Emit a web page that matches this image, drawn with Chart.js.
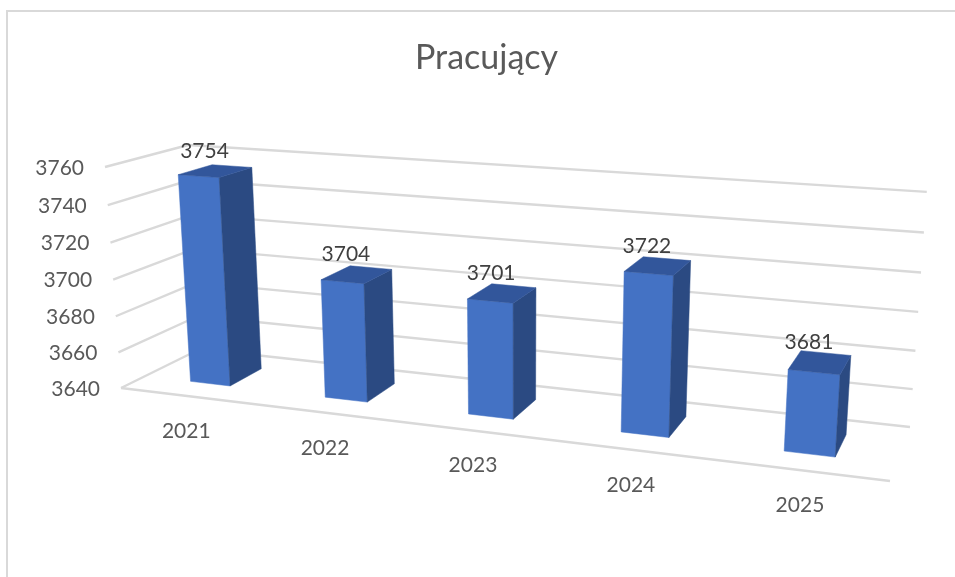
<!DOCTYPE html>
<html>
<head>
<meta charset="utf-8">
<title>Pracujący</title>
<script src="https://cdn.jsdelivr.net/npm/chart.js@4"></script>
<style>
	html, body { margin: 0; padding: 0; background: #fff; overflow: hidden; }
	#frame { position: absolute; left: 6px; top: 10px; width: 960px; height: 580px; border-left: 2px solid #d9d9d9; border-top: 2px solid #d9d9d9; }
	#wrap { position: absolute; left: 0; top: 0; width: 955px; height: 577px; }
</style>
</head>
<body>
<div id="frame"></div>
<div id="wrap"><canvas id="chart" width="955" height="577"></canvas></div>
<script>
var categories = ["2021", "2022", "2023", "2024", "2025"];
var employed = [3754, 3704, 3701, 3722, 3681];
var axisMin = 3640;
var axisMax = 3760;
var axisStep = 20;
var chartTitle = "Pracujący";

var fontName = "Lato, 'Open Sans', sans-serif";
var gridColor = "#d9d9d9";
var tickColor = "#595959";
var labelColor = "#404040";
var frontColor = "#4472c4";
var sideColor = "#2b4a82";
var topColor = "#32569b";

// the 3d box the chart stands in: u along categories, v up the value axis, d into the page
var cornerO = [121, 388];
var cornerU = [890, 481];
var cornerV = [105, 167];
var cornerD = [200, 349];
var persp = [-0.1516, -0.0386, 0.0874];
var depthFront = 0.29;
var depthBack = 0.715;

function project(u, v, d) {
	var w = 1 + persp[0] * u + persp[1] * v + persp[2] * d;
	var res = [];
	for (var i = 0; i < 2; i++) {
		res.push((cornerO[i]
			+ (cornerU[i] * (1 + persp[0]) - cornerO[i]) * u
			+ (cornerV[i] * (1 + persp[1]) - cornerO[i]) * v
			+ (cornerD[i] * (1 + persp[2]) - cornerO[i]) * d) / w);
	}
	return res;
}

function drawLine(ctx, a, b) {
	ctx.beginPath();
	ctx.moveTo(a[0], a[1]);
	ctx.lineTo(b[0], b[1]);
	ctx.stroke();
}

function drawFace(ctx, pts, color) {
	ctx.fillStyle = color;
	ctx.strokeStyle = color;
	ctx.lineWidth = 0.5;
	ctx.beginPath();
	ctx.moveTo(pts[0][0], pts[0][1]);
	for (var i = 1; i < pts.length; i++)
		ctx.lineTo(pts[i][0], pts[i][1]);
	ctx.closePath();
	ctx.fill();
	ctx.stroke();
}

// u and v of one chart.js bar element, taken from its scale pixels
function barBox(chart, bar) {
	var area = chart.chartArea;
	var p = bar.getProps(["x", "y", "base", "width"], true);
	return {
		u0: (p.x - p.width / 2 - area.left) / area.width,
		u1: (p.x + p.width / 2 - area.left) / area.width,
		v0: (area.bottom - p.base) / area.height,
		v1: (area.bottom - p.y) / area.height
	};
}

var box3d = {
	id: "box3d",
	beforeDatasetsDraw: function (chart) {
		var ctx = chart.ctx;
		var yScale = chart.scales.y;
		var area = chart.chartArea;
		ctx.save();
		ctx.strokeStyle = gridColor;
		ctx.lineWidth = 2.4;
		ctx.font = "21px " + fontName;
		ctx.textAlign = "right";
		ctx.textBaseline = "middle";
		yScale.ticks.forEach(function (tick) {
			var v = (area.bottom - yScale.getPixelForValue(tick.value)) / area.height;
			var front = project(0, v, 0);
			var corner = project(0, v, 1);
			var end = project(1, v, 1);
			drawLine(ctx, front, corner);
			drawLine(ctx, corner, end);
			ctx.fillStyle = tickColor;
			ctx.fillText(String(tick.value), front[0] - 21, front[1] + 1);
		});
		drawLine(ctx, project(0, 0, 0), project(1, 0, 0));
		ctx.restore();
	},
	beforeDatasetDraw: function (chart, args) {
		var ctx = chart.ctx;
		ctx.save();
		args.meta.data.forEach(function (bar) {
			var b = barBox(chart, bar);
			drawFace(ctx, [project(b.u0, b.v0, depthFront), project(b.u1, b.v0, depthFront), project(b.u1, b.v1, depthFront), project(b.u0, b.v1, depthFront)], frontColor);
			drawFace(ctx, [project(b.u1, b.v0, depthFront), project(b.u1, b.v0, depthBack), project(b.u1, b.v1, depthBack), project(b.u1, b.v1, depthFront)], sideColor);
			drawFace(ctx, [project(b.u0, b.v1, depthFront), project(b.u1, b.v1, depthFront), project(b.u1, b.v1, depthBack), project(b.u0, b.v1, depthBack)], topColor);
		});
		ctx.restore();
		return false;
	},
	afterDatasetsDraw: function (chart) {
		var ctx = chart.ctx;
		var bars = chart.getDatasetMeta(0).data;
		ctx.save();
		ctx.font = "21px " + fontName;
		ctx.textAlign = "center";
		ctx.textBaseline = "middle";
		bars.forEach(function (bar, i) {
			var b = barBox(chart, bar);
			var mid = (b.u0 + b.u1) / 2;
			var top = project(mid, b.v1, (depthFront + depthBack) / 2);
			ctx.fillStyle = labelColor;
			ctx.fillText(String(employed[i]), top[0] - 11, top[1] - 20);
			var foot = project(mid, 0, 0);
			ctx.fillStyle = tickColor;
			ctx.fillText(categories[i], foot[0] - 1, foot[1] + 35);
		});
		ctx.restore();
	}
};

var ctx = document.getElementById("chart");

var data = {
	labels: categories,
	datasets: [
		{
			label: chartTitle,
			data: employed,
			base: axisMin,
			backgroundColor: frontColor,
			barPercentage: 0.3,
			categoryPercentage: 1
		}
	]
};

var options = {
	responsive: false,
	animation: false,
	layout: { padding: { left: 18 } },
	plugins: {
		legend: { display: false },
		tooltip: { enabled: false },
		title: {
			display: true,
			text: chartTitle,
			color: tickColor,
			font: { family: fontName, size: 34, weight: "normal" },
			padding: { top: 38, bottom: 10 }
		}
	},
	scales: {
		x: { display: false },
		y: {
			display: false,
			min: axisMin,
			max: axisMax,
			ticks: { stepSize: axisStep }
		}
	}
};

var chart = new Chart(ctx, {
	type: "bar",
	data: data,
	options: options,
	plugins: [box3d]
});
</script>
</body>
</html>
